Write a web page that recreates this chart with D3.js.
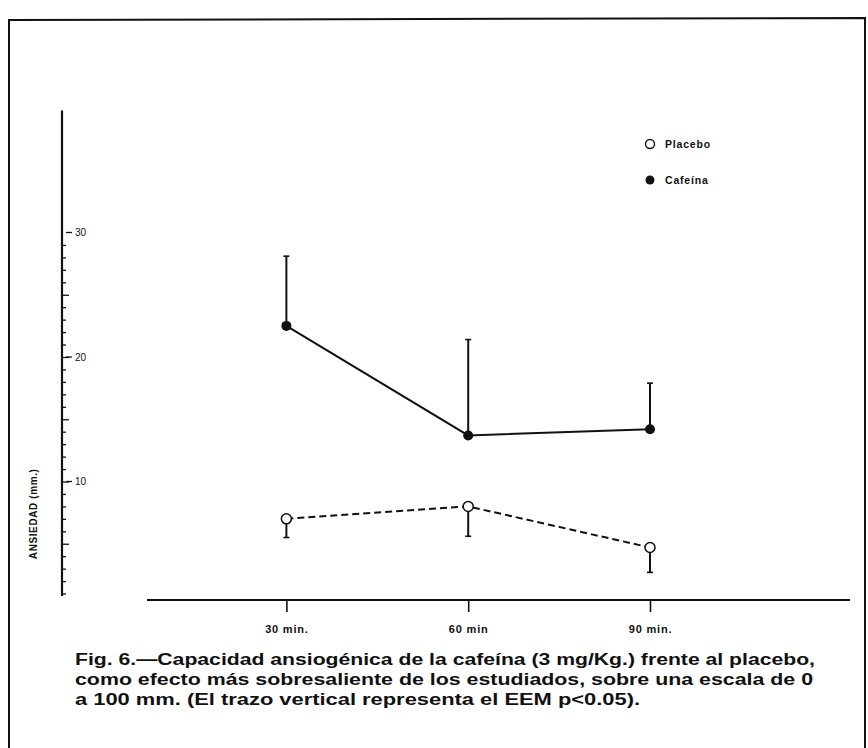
<!DOCTYPE html>
<html>
<head>
<meta charset="utf-8">
<script src="https://cdn.jsdelivr.net/npm/d3@7"></script>
<style>
  html, body { margin: 0; padding: 0; background: #fff; }
  svg { display: block; }
</style>
</head>
<body>
<svg id="chart" width="868" height="748"></svg>
<script>
// ---- data ----
const minutes = [30, 60, 90];
const timeLabels = ["30 min.", "60 min", "90 min."];
const cafeina = [22.5, 13.7, 14.2];
const cafeinaSEM = [5.6, 7.7, 3.7];
const placebo = [7.0, 8.0, 4.7];
const placeboSEM = [1.5, 2.4, 2.0];
const yMajorTicks = [10, 20, 30];
const yMajorLabels = ["10", "20", "30"];
const yMinorTicks = d3.range(1, 30);
const legendLabels = ["Placebo", "Cafeína"];
const yTitle = "ANSIEDAD (mm.)";
const captionLines = [
  "Fig. 6.—Capacidad ansiogénica de la cafeína (3 mg/Kg.) frente al placebo,",
  "como efecto más sobresaliente de los estudiados, sobre una escala de 0",
  "a 100 mm. (El trazo vertical representa el EEM p<0.05)."
];

// ---- layout ----
const svg = d3.select("#chart");
const ink = "#111";
const font = "'Liberation Sans', Arial, sans-serif";

const x = d3.scaleLinear().domain([7, 123]).range([147, 850]);
const y = d3.scaleLinear().domain([0, 40]).range([606, 108]);

// frame
svg.append("path")
  .attr("d", "M9,748 L9,20 L865,18 L865,748")
  .attr("fill", "none").attr("stroke", ink).attr("stroke-width", 2);

// y axis
const yAxisX = 62;
svg.append("line")
  .attr("x1", yAxisX).attr("x2", yAxisX)
  .attr("y1", y(39.8)).attr("y2", y(0.8))
  .attr("stroke", ink).attr("stroke-width", 2.2);

const gyMinor = svg.append("g").attr("transform", `translate(${yAxisX},0)`)
  .call(d3.axisRight(y).tickValues(yMinorTicks).tickSize(4).tickFormat(""));
gyMinor.select(".domain").remove();
gyMinor.selectAll(".tick line")
  .attr("stroke", ink).attr("stroke-width", 1.3)
  .attr("x2", d => (d % 5 === 0 ? 7 : 4));

const gyMajor = svg.append("g");
gyMajor.selectAll("line").data(yMajorTicks).join("line")
  .attr("x1", yAxisX + 4).attr("x2", yAxisX + 10)
  .attr("y1", d => y(d)).attr("y2", d => y(d))
  .attr("stroke", ink).attr("stroke-width", 1.3);
gyMajor.selectAll("text").data(yMajorTicks).join("text")
  .attr("x", yAxisX + 13).attr("y", d => y(d) + 3.5)
  .attr("font-family", font).attr("font-size", 10).attr("fill", ink)
  .text((d, i) => yMajorLabels[i]);

// y title
svg.append("text")
  .attr("transform", `translate(37, ${y(7.4)}) rotate(-90)`)
  .attr("text-anchor", "middle")
  .attr("font-family", font).attr("font-size", 10).attr("font-weight", "bold")
  .attr("letter-spacing", 0.6)
  .attr("fill", ink)
  .text(yTitle);

// x axis
const xAxisY = 600;
const gx = svg.append("g").attr("transform", `translate(0,${xAxisY})`)
  .call(d3.axisBottom(x).tickValues(minutes).tickSize(12).tickFormat((d, i) => timeLabels[i]));
gx.select(".domain").attr("stroke", ink).attr("stroke-width", 2.2)
  .attr("d", `M${x.range()[0]},0H${x.range()[1]}`);
gx.selectAll(".tick line").attr("stroke", ink).attr("stroke-width", 1.6);
gx.selectAll(".tick text")
  .attr("y", 25)
  .attr("font-family", font).attr("font-size", 11).attr("font-weight", "bold")
  .attr("letter-spacing", 0.8)
  .attr("fill", ink);

// ---- series ----
const r = 5;
const cafData = minutes.map((m, i) => ({ m, v: cafeina[i], e: cafeinaSEM[i] }));
const plaData = minutes.map((m, i) => ({ m, v: placebo[i], e: placeboSEM[i] }));
const line = d3.line().x(d => x(d.m)).y(d => y(d.v));

// cafeina error bars (upward)
const capW = 6;
const gCE = svg.append("g").attr("stroke", ink);
gCE.selectAll("line.bar").data(cafData).join("line").attr("class", "bar")
  .attr("x1", d => x(d.m)).attr("x2", d => x(d.m))
  .attr("y1", d => y(d.v)).attr("y2", d => y(d.v + d.e))
  .attr("stroke-width", 2);
gCE.selectAll("line.cap").data(cafData).join("line").attr("class", "cap")
  .attr("x1", d => x(d.m) - capW / 2).attr("x2", d => x(d.m) + capW / 2)
  .attr("y1", d => y(d.v + d.e)).attr("y2", d => y(d.v + d.e))
  .attr("stroke-width", 1.6);

// placebo error bars (downward)
const gPE = svg.append("g").attr("stroke", ink);
gPE.selectAll("line.bar").data(plaData).join("line").attr("class", "bar")
  .attr("x1", d => x(d.m)).attr("x2", d => x(d.m))
  .attr("y1", d => y(d.v)).attr("y2", d => y(d.v - d.e))
  .attr("stroke-width", 2);
gPE.selectAll("line.cap").data(plaData).join("line").attr("class", "cap")
  .attr("x1", d => x(d.m) - capW / 2).attr("x2", d => x(d.m) + capW / 2)
  .attr("y1", d => y(d.v - d.e)).attr("y2", d => y(d.v - d.e))
  .attr("stroke-width", 1.6);

// lines
svg.append("path").datum(cafData)
  .attr("d", line).attr("fill", "none")
  .attr("stroke", ink).attr("stroke-width", 2);
svg.append("path").datum(plaData)
  .attr("d", line).attr("fill", "none")
  .attr("stroke", ink).attr("stroke-width", 2)
  .attr("stroke-dasharray", "7,4");

// markers
svg.append("g").selectAll("circle").data(cafData).join("circle")
  .attr("cx", d => x(d.m)).attr("cy", d => y(d.v)).attr("r", r)
  .attr("fill", ink);
svg.append("g").selectAll("circle").data(plaData).join("circle")
  .attr("cx", d => x(d.m)).attr("cy", d => y(d.v)).attr("r", r)
  .attr("fill", "#fff").attr("stroke", ink).attr("stroke-width", 1.5);

// legend
const legX = 650, legY = [144, 180];
const leg = svg.append("g");
leg.append("circle").attr("cx", legX).attr("cy", legY[0]).attr("r", 4.5)
  .attr("fill", "#fff").attr("stroke", ink).attr("stroke-width", 1.4);
leg.append("circle").attr("cx", legX).attr("cy", legY[1]).attr("r", 4.5)
  .attr("fill", ink);
leg.selectAll("text").data(legendLabels).join("text")
  .attr("x", legX + 15).attr("y", (d, i) => legY[i] + 3.5)
  .attr("font-family", font).attr("font-size", 10.5).attr("font-weight", "bold")
  .attr("letter-spacing", 0.8)
  .attr("fill", ink)
  .text(d => d);

// caption
const capWidths = [740, 738, 565];
svg.append("g").selectAll("text").data(captionLines).join("text")
  .attr("x", 75).attr("y", (d, i) => 665 + i * 20)
  .attr("font-family", font).attr("font-size", 16).attr("font-weight", "bold")
  .attr("fill", ink)
  .attr("textLength", (d, i) => capWidths[i]).attr("lengthAdjust", "spacingAndGlyphs")
  .text(d => d);
</script>
</body>
</html>
